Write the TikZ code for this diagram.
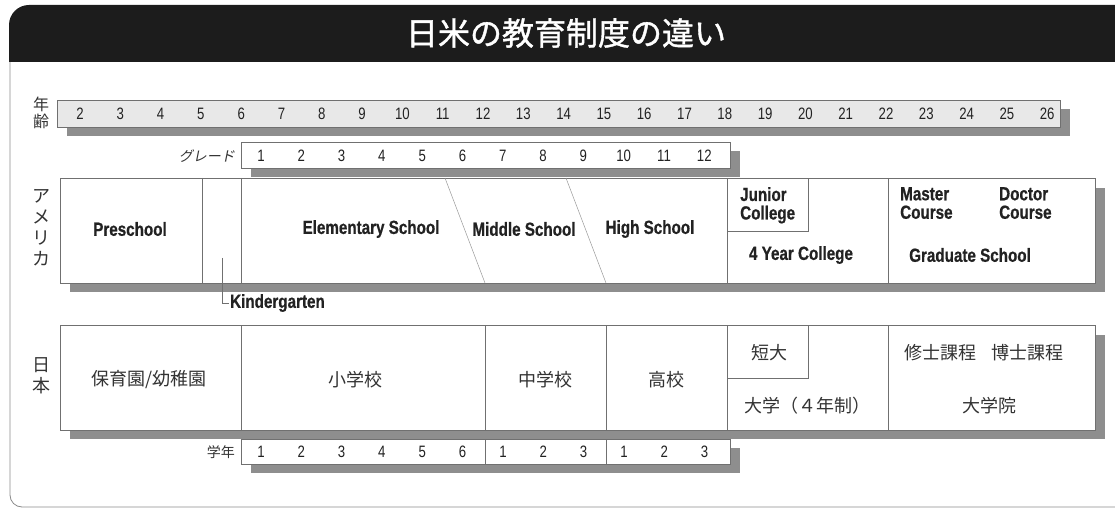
\documentclass[tikz,border=0pt]{standalone}
\usepackage{fontspec}
\newfontfamily\cond[FakeStretch=0.8]{Liberation Sans}
\newfontfamily\condb[FakeStretch=0.8,BoldFeatures={FakeBold=0.6}]{Liberation Sans}
\newfontfamily\jp{Noto Sans CJK JP}
\newfontfamily\jpt[FakeBold=1.2]{Noto Sans CJK JP}
\newfontfamily\jpsl[FakeSlant=0.2]{Noto Sans CJK JP}
\definecolor{linegray}{HTML}{707070}
\definecolor{thingray}{HTML}{9A9A9A}
\definecolor{shadowgray}{HTML}{8E8E8E}
\definecolor{agefill}{HTML}{E8E8E8}
\definecolor{framegray}{HTML}{8A8A8A}
\definecolor{titleblack}{HTML}{1C1C1C}
\definecolor{ink}{HTML}{222222}
\definecolor{jpink}{HTML}{333333}
\begin{document}
\begin{tikzpicture}[x=1pt,y=-1pt,
  box/.style={draw=linegray, fill=white, line width=0.9pt},
  bar/.style={draw=linegray, fill=agefill, line width=0.9pt},
  shade/.style={fill=shadowgray},
  sep/.style={draw=linegray, line width=0.9pt},
  diag/.style={draw=thingray, line width=0.5pt},
  en/.style={font=\condb\bfseries\fontsize{19}{18.5}\selectfont, text=ink, inner sep=1pt},
  num/.style={font=\cond\fontsize{16.5}{16.5}\selectfont, text=ink, inner sep=0pt},
  jt/.style={font=\jp\fontsize{18}{18}\selectfont, text=jpink, inner sep=0pt},
  rowlab/.style={font=\jp\fontsize{18}{21}\selectfont, text=jpink, align=center, inner sep=0pt},
  small/.style={font=\jp\fontsize{14}{14}\selectfont, text=jpink, inner sep=0pt, anchor=east}]
\useasboundingbox (0,0) rectangle (1115,510);
% frame and title
\draw[framegray, line width=0.8pt] (10,62) -- (10,495) arc (180:90:12) -- (1115,507);
\fill[titleblack] (9,62) -- (9,25) arc (180:270:20) -- (1115,5) -- (1115,62) -- cycle;
\node[font=\jpt\fontsize{32}{32}\selectfont, text=white, inner sep=0pt] (title) at (566,33) {日米の教育制度の違い};

% age bar
\node[rowlab, font=\jp\fontsize{16}{16.5}\selectfont] (agelab) at (41,113) {年\\齢};
\fill[shade] (67,109) rectangle (1070,136);
\draw[bar] (57,100) rectangle (1060,127);
\foreach \a in {2,...,26} \node[num] (age\a) at ({80+(\a-2)*40.3},114) {\a};

% US grade bar
\fill[shade] (251,151) rectangle (740,177);
\draw[box] (241,142) rectangle (730,168);
\node[small, font=\jpsl\fontsize{14}{14}\selectfont] (gradelab) at (235,156) {グレード};
\foreach \g in {1,...,12} \node[num] (gr\g) at ({261+(\g-1)*40.3},156) {\g};

% US row
\node[rowlab] (usa) at (41,228) {ア\\メ\\リ\\カ};
\fill[shade] (70,188) rectangle (1105,292);
\draw[box] (60,178) rectangle (1095,283);
\draw[sep] (202,178) -- (202,283);
\draw[sep] (241,178) -- (241,283);
\draw[diag] (445,178) -- (485,283);
\draw[diag] (566,178) -- (606,283);
\draw[sep] (727,178) -- (727,283);
\draw[sep] (888,178) -- (888,283);
\draw[sep] (727,231) -| (808,178);
\node[en] (pre) at (130,229) {Preschool};
\node[en] (elem) at (371,229) {Elementary School};
\node[en] (mid) at (524,229) {Middle School};
\node[en] (high) at (650,229) {High School};
\node[en, align=left, anchor=north west] (junior) at (739,186) {Junior\\College};
\node[en] (fouryr) at (801,255) {4 Year College};
\node[en, align=left, anchor=north west] (master) at (899,186) {Master\\Course};
\node[en, align=left, anchor=north west] (doctor) at (998,186) {Doctor\\Course};
\node[en] (grad) at (970,255) {Graduate School};
\node[en, anchor=west] (kinder) at (229,303) {Kindergarten};
\coordinate (kpt) at (222,258);
\draw[linegray, line width=0.8pt] (kpt) |- (kinder.west);

% Japan row
\node[rowlab] (japan) at (41,376) {日\\本};
\fill[shade] (70,335) rectangle (1105,439);
\draw[box] (60,325) rectangle (1095,430);
\draw[sep] (241,325) -- (241,430);
\draw[sep] (485,325) -- (485,430);
\draw[sep] (606,325) -- (606,430);
\draw[sep] (727,325) -- (727,430);
\draw[sep] (888,325) -- (888,430);
\draw[sep] (727,378) -| (808,325);
\node[jt] (hoiku) at (149,380) {保育園/幼稚園};
\node[jt] (sho) at (355,380) {小学校};
\node[jt] (chu) at (545,380) {中学校};
\node[jt] (koko) at (666,380) {高校};
\node[jt] (tandai) at (769,353) {短大};
\node[jt] (daigaku) at (807,406) {大学（４年制）};
\node[jt] (shushi) at (940,353) {修士課程};
\node[jt] (hakushi) at (1027,353) {博士課程};
\node[jt] (inn) at (989,406) {大学院};

% Japan grade bar
\fill[shade] (251,448) rectangle (740,473);
\draw[box] (241,439) rectangle (730,464);
\draw[sep] (485,439) -- (485,464);
\draw[sep] (606,439) -- (606,464);
\node[small] (gakunen) at (235,452) {学年};
\foreach \g in {1,...,6} \node[num] (es\g) at ({261+(\g-1)*40.3},452) {\g};
\foreach \g in {1,...,3} \node[num] (ms\g) at ({503+(\g-1)*40.3},452) {\g};
\foreach \g in {1,...,3} \node[num] (hs\g) at ({624+(\g-1)*40.3},452) {\g};
\end{tikzpicture}
\end{document}
